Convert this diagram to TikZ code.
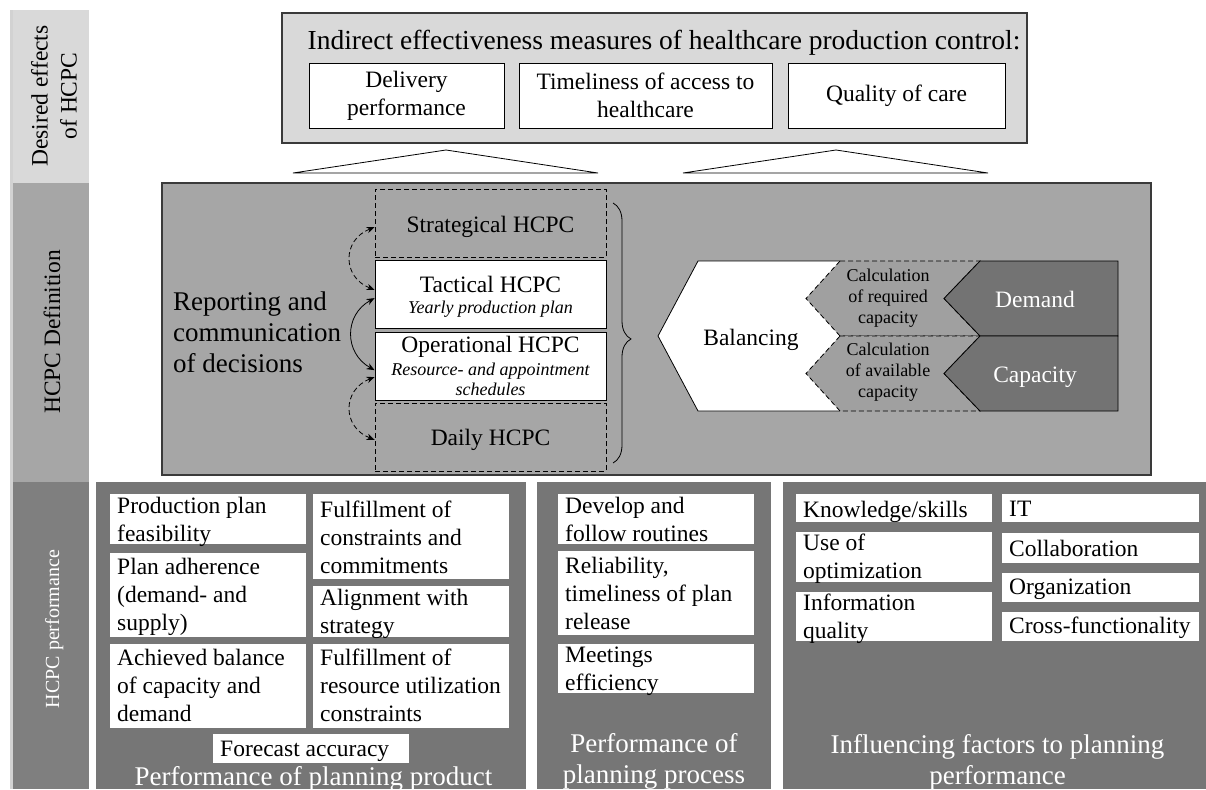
\documentclass[tikz,border=0pt]{standalone}
\usepackage{fontspec}
\setmainfont{Liberation Serif}
\usetikzlibrary{arrows.meta,decorations.pathreplacing,calc}
\definecolor{lg}{HTML}{D9D9D9}
\definecolor{mg}{HTML}{A6A6A6}
\definecolor{sg}{HTML}{7F7F7F}
\definecolor{pg}{HTML}{767676}
\definecolor{dg}{HTML}{737373}
\definecolor{cg}{HTML}{A0A0A0}
\definecolor{edgec}{HTML}{3A3A3A}
\definecolor{striplight}{HTML}{D2D2D2}
\tikzset{
  fa/.style={font=\fontsize{23.5}{28}\selectfont},
  ebox/.style={draw=black, fill=white, line width=0.9pt, inner sep=0pt, align=flush center, fa},
  pfill/.style={fill=white, inner sep=0pt},
  ptext/.style={inner sep=0pt, align=flush left, fa},
  txt/.style={inner sep=0pt},
  ttl/.style={inner sep=0pt, text=white, align=flush center, font=\fontsize{27}{31}\selectfont},
  lvl/.style={minimum width=231pt, minimum height=68pt, inner sep=0pt, line width=0.9pt},
  lvldash/.style={lvl, draw=black, dash pattern=on 5pt off 3pt},
  lvlsolid/.style={lvl, draw=black, fill=white},
  biarrow/.style={{Stealth[length=8pt,width=6.5pt]}-{Stealth[length=8pt,width=6.5pt]}, line width=0.8pt},
  dsh/.style={dash pattern=on 5pt off 3pt},
  ital/.style={inner sep=0pt, align=flush center, font=\fontsize{18}{20}\selectfont\itshape},
  calc/.style={inner sep=0pt, align=flush center, font=\fontsize{18}{21}\selectfont},
}
% #1 name, #2 x1, #3 y1, #4 x2, #5 y2, #6 first baseline, #7 text
\newcommand\pbx[7]{%
  \node[pfill, minimum width={(#4-#2)*1pt}, minimum height={(#5-#3)*1pt}] (#1) at ({(#2+#4)/2},{(#3+#5)/2}) {};
  \node[ptext, text width={(#4-#2-12)*1pt}, anchor=north west] (#1t) at ({#2+7},{#6-16}) {#7};
}
\begin{document}
\begin{tikzpicture}[x=1pt,y=-1pt]
\useasboundingbox (0,0) rectangle (1206,789);
\fill[white] (0,0) rectangle (1206,789);

% side bar
\fill[striplight] (10,10) rectangle (13,789);
\fill[lg] (13,10) rectangle (89,183);
\fill[mg] (13,183) rectangle (89,482);
\fill[sg] (13,482) rectangle (89,789);
\node[txt, rotate=90, align=flush center, font=\fontsize{23.5}{29}\selectfont] (sd1) at (54,96) {Desired effects\\of HCPC};
\node[txt, rotate=90, anchor=base, fa] (sd2) at (60,332) {HCPC Definition};
\node[txt, rotate=90, anchor=base, text=white, font=\fontsize{20}{24}\selectfont] (sd3) at (59,629) {HCPC performance};

% top box
\node[draw=edgec, fill=lg, line width=1.3pt, minimum width=745pt, minimum height=130pt, inner sep=0pt] (top) at (654.5,78) {};
\node[txt, anchor=base, font=\fontsize{27.5}{31}\selectfont] (hdr) at (664,50) {Indirect effectiveness measures of healthcare production control:};
\node[ebox, minimum width=195pt, minimum height=65pt] (del) at (406.5,95.5) {Delivery\\performance};
\node[ebox, minimum width=253pt, minimum height=65pt] (tim) at (645.5,95.5) {Timeliness of access to\\healthcare};
\node[ebox, minimum width=217pt, minimum height=65pt] (qual) at (896.5,95.5) {Quality of care};

% triangles
\draw[fill=white, line width=0.8pt] (293,173) -- (446,150) -- (598,173) -- cycle;
\draw[fill=white, line width=0.8pt] (683,173) -- (836,150) -- (988,173) -- cycle;

% middle box
\node[draw=edgec, fill=mg, line width=1.3pt, minimum width=989pt, minimum height=292pt, inner sep=0pt] (mid) at (656.5,329) {};

\node[lvldash] (strat) at (490.5,223) {};
\node[lvlsolid] (tact) at (490.5,294) {};
\node[lvlsolid] (oper) at (490.5,366) {};
\node[lvldash] (daily) at (490.5,437) {};
\node[txt, anchor=base, fa] (stratT) at (490.5,232) {Strategical HCPC};
\node[txt, anchor=base, fa] (tactT) at (490.5,292) {Tactical HCPC};
\node[ital, anchor=base] (tactS) at (490.5,313) {Yearly production plan};
\node[txt, anchor=base, fa] (operT) at (490.5,352) {Operational HCPC};
\node[ital] (operS) at (490.5,379) {Resource- and appointment\\schedules};
\node[txt, anchor=base, fa] (dailyT) at (490.5,445) {Daily HCPC};

\node[txt, anchor=west, align=flush left, font=\fontsize{27}{31}\selectfont] (rep) at (173,331.8) {Reporting and\\communication\\of decisions};

\draw[biarrow, dsh] ($(strat.south west)!0.44!(strat.north west)$) .. controls (342,240) and (342,277) .. ($(tact.north west)!0.44!(tact.south west)$);
\draw[biarrow] ($(tact.north west)!0.56!(tact.south west)$) .. controls (344,315) and (344,353) .. ($(oper.north west)!0.56!(oper.south west)$);
\draw[biarrow, dsh] ($(oper.north west)!0.66!(oper.south west)$) .. controls (342,390) and (342,427) .. ($(daily.north west)!0.54!(daily.south west)$);

\draw[line width=0.8pt, decorate, decoration={brace, amplitude=18pt, aspect=0.523}] (613,203) -- (613,463);

% balancing
\fill[white] (658,336) -- (698,261) -- (840,261) -- (806,298.5) -- (840,336) -- (806,373.5) -- (840,411) -- (698,411) -- cycle;
\draw[line width=0.8pt] (840,261) -- (698,261) -- (658,336) -- (698,411) -- (840,411);
\draw[fill=cg, dsh, line width=0.8pt] (840,261) -- (980,261) -- (944,298.5) -- (980,336) -- (840,336) -- (806,298.5) -- cycle;
\draw[fill=cg, dsh, line width=0.8pt] (840,336) -- (980,336) -- (944,373.5) -- (980,411) -- (840,411) -- (806,373.5) -- cycle;
\draw[fill=dg, line width=0.8pt] (980,261) -- (1118,261) -- (1118,336) -- (980,336) -- (944,298.5) -- cycle;
\draw[fill=dg, line width=0.8pt] (980,336) -- (1118,336) -- (1118,411) -- (980,411) -- (944,373.5) -- cycle;
\node[txt, anchor=base, fa] (bal) at (751,345) {Balancing};
\node[calc] (creq) at (888,298) {Calculation\\of required\\capacity};
\node[calc] (cavl) at (888,372.5) {Calculation\\of available\\capacity};
\node[txt, anchor=base, fa, text=white] (dem) at (1035,307) {Demand};
\node[txt, anchor=base, fa, text=white] (cap) at (1035,382) {Capacity};

% bottom panels
\fill[pg] (96,482) rectangle (526,789);
\fill[pg] (537,482) rectangle (771,789);
\fill[pg] (783,482) rectangle (1206,789);

\pbx{b11}{110}{494}{306}{544}{513}{Production plan\\feasibility}
\pbx{b12}{110}{553}{306}{637}{574}{Plan adherence\\(demand- and\\supply)}
\pbx{b13}{110}{644}{306}{728}{665}{Achieved balance\\of capacity and\\demand}
\pbx{b21}{313}{494}{509}{579}{516.5}{Fulfillment of\\constraints and\\commitments}
\pbx{b22}{313}{586}{509}{637}{605}{Alignment with\\strategy}
\pbx{b23}{313}{644}{509}{728}{665}{Fulfillment of\\resource utilization\\constraints}
\pbx{fc}{213}{734}{409}{763}{757}{Forecast accuracy}
\node[ttl, anchor=base] (t1) at (313.5,785) {Performance of planning product};

\pbx{c1}{558}{494}{754}{544}{513}{Develop and\\follow routines}
\pbx{c2}{558}{551}{754}{635}{573}{Reliability,\\timeliness of plan\\release}
\pbx{c3}{558}{644}{754}{693}{663}{Meetings\\efficiency}
\node[ttl] (t2) at (654,761.2) {Performance of\\planning process};

\pbx{d1}{796}{494}{992}{522}{517}{Knowledge/skills}
\pbx{d2}{796}{532}{992}{582}{550}{Use of\\optimization}
\pbx{d3}{796}{592}{992}{641}{610}{Information\\quality}
\pbx{e1}{1002}{494}{1199}{522}{517}{IT}
\pbx{e2}{1002}{533}{1199}{563}{556}{Collaboration}
\pbx{e3}{1002}{573}{1199}{602}{595}{Organization}
\pbx{e4}{1002}{612}{1199}{641}{633}{Cross-functionality}
\node[ttl] (t3) at (997.5,762.2) {Influencing factors to planning\\performance};
\end{tikzpicture}
\end{document}
